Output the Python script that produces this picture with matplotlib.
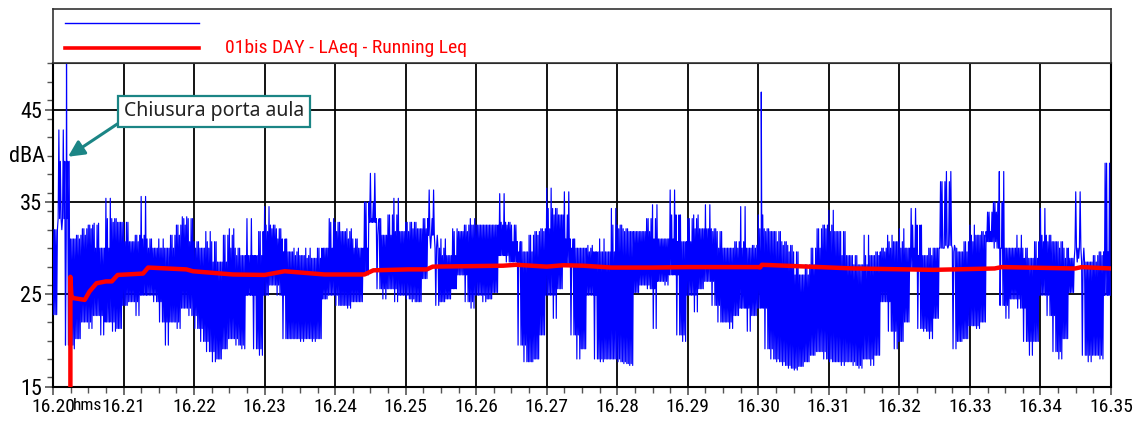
import os
import matplotlib
matplotlib.use("Agg")
import matplotlib.pyplot as plt
from matplotlib import font_manager as fm
from matplotlib.ticker import FixedLocator, MultipleLocator

# ── data: LAeq short samples (5 s bins: upper / lower swing), dBA ───────────
BIN_S = 5.0
blue_hi = [
    32.0, 42.8, 39.4, 31.0, 31.4, 32.1, 32.5, 32.7, 30.0, 35.4,
    33.2, 32.8, 32.8, 30.7, 31.4, 35.6, 31.0, 30.0, 31.0, 30.0,
    31.4, 32.5, 33.4, 33.2, 30.7, 30.0, 31.8, 30.7, 28.5, 31.4,
    32.1, 30.0, 29.2, 33.2, 29.2, 31.8, 34.5, 32.5, 32.1, 31.0,
    29.6, 30.0, 29.2, 30.0, 28.9, 30.0, 30.0, 33.2, 32.8, 31.8,
    32.1, 31.0, 30.0, 35.0, 38.1, 33.2, 31.4, 33.6, 35.4, 31.8,
    32.8, 32.8, 32.1, 33.2, 36.3, 30.0, 31.0, 29.2, 32.1, 31.8,
    32.5, 33.2, 32.5, 32.5, 32.5, 32.5, 35.9, 32.8, 32.5, 30.7,
    29.6, 31.4, 31.8, 32.1, 36.5, 34.3, 33.6, 36.1, 31.0, 30.0,
    30.0, 30.3, 29.6, 31.0, 29.6, 34.3, 32.5, 32.1, 31.8, 31.8,
    31.8, 33.2, 34.7, 31.0, 31.0, 36.3, 33.6, 30.7, 33.2, 33.6,
    32.1, 34.7, 32.1, 31.8, 30.0, 30.0, 30.7, 34.5, 30.0, 30.3,
    33.6, 32.1, 31.8, 31.8, 30.7, 30.3, 29.6, 27.1, 28.2, 30.0,
    32.1, 32.5, 34.1, 31.8, 31.8, 29.2, 29.2, 28.2, 31.4, 29.2,
    29.6, 30.0, 31.4, 30.7, 32.1, 30.0, 34.3, 32.5, 29.2, 30.0,
    30.0, 37.2, 38.3, 30.0, 29.6, 30.7, 32.5, 31.4, 31.8, 33.9,
    35.0, 38.3, 30.0, 30.0, 31.4, 30.0, 28.9, 30.7, 34.3, 31.4,
    30.7, 30.7, 30.0, 28.9, 36.1, 28.5, 28.5, 29.2, 29.6, 39.2,
]
blue_lo = [
    22.8, 33.2, 19.5, 19.1, 20.2, 22.0, 21.3, 22.7, 20.6, 22.0,
    21.0, 21.3, 23.8, 24.2, 22.7, 24.9, 24.9, 24.2, 22.0, 19.5,
    22.0, 21.3, 23.5, 22.7, 21.3, 19.9, 18.8, 17.7, 18.0, 19.1,
    20.2, 19.5, 19.1, 24.9, 19.1, 18.4, 24.9, 26.0, 24.9, 20.2,
    20.2, 20.2, 19.9, 20.2, 19.9, 20.2, 24.5, 24.9, 23.8, 23.8,
    23.5, 24.2, 24.2, 27.1, 32.8, 25.6, 24.5, 25.6, 24.2, 24.9,
    24.5, 24.2, 24.2, 26.7, 31.4, 23.8, 24.2, 24.5, 25.6, 27.1,
    24.2, 23.5, 24.9, 24.2, 24.5, 25.2, 29.2, 28.5, 28.5, 19.5,
    17.7, 17.7, 18.0, 20.6, 24.9, 22.4, 25.6, 28.2, 20.6, 18.0,
    19.1, 24.9, 18.0, 17.7, 18.0, 18.0, 17.7, 17.5, 17.3, 25.2,
    26.0, 25.6, 21.3, 26.4, 26.0, 27.1, 20.6, 19.9, 24.9, 23.1,
    25.6, 26.4, 23.8, 22.0, 22.0, 21.3, 22.7, 23.5, 21.0, 22.7,
    23.5, 19.1, 18.0, 17.7, 17.3, 17.0, 16.8, 17.2, 17.7, 18.4,
    18.8, 18.0, 17.7, 17.7, 17.3, 17.7, 17.3, 17.0, 18.0, 17.3,
    18.4, 24.2, 21.0, 19.1, 19.9, 22.0, 27.8, 21.3, 21.0, 20.2,
    22.4, 30.0, 30.3, 19.1, 19.9, 20.2, 21.6, 21.3, 22.0, 30.7,
    30.0, 23.8, 22.4, 24.5, 23.5, 19.9, 18.4, 19.9, 24.9, 22.7,
    18.8, 18.0, 20.2, 25.2, 30.0, 18.4, 17.7, 18.4, 18.0, 24.9,
]
# isolated single-sample peaks (s from 16:20:00, dBA)
peak_t = [11.5, 602.5]
peak_v = [50.5, 46.9]

# running Leq
leq_t = [14.8, 14.8, 15.6, 17.0, 27.0, 31.0, 37.0, 45.0, 50.0, 55.0,
         76.6, 80.9, 113.5, 119.0, 153.0, 180.0, 197.0, 231.0, 265.0, 272.5,
         302.0, 318.0, 323.0, 383.0, 394.0, 420.0, 434.0, 451.0, 475.0, 509.0,
         540.0, 600.0, 601.5, 603.0, 623.0, 681.0, 749.0, 801.0, 807.0, 869.5,
         875.0, 900.0]
leq_v = [15.0, 26.9, 24.9, 24.6, 24.4, 25.3, 26.2, 26.4, 26.4, 27.1,
         27.25, 27.9, 27.7, 27.5, 27.15, 27.1, 27.5, 27.15, 27.15, 27.6,
         27.7, 27.7, 28.0, 28.1, 28.2, 28.0, 28.15, 28.1, 27.9, 27.9,
         27.95, 27.95, 27.9, 28.2, 28.1, 27.8, 27.65, 27.8, 27.95, 27.8,
         27.95, 27.8]

x_ticks = [60 * m for m in range(16)]
x_labels = ["16.%02d" % (20 + m) for m in range(16)]
y_ticks = [15, 25, 35, 45]

TEAL = "#1b8585"


def _narrow_fp(size):
    """Pick a condensed sans face if one is installed, else plain sans smaller."""
    wanted = ["LiberationSansNarrow-Regular", "NotoSans-ExtraCondensed.",
              "NotoSans-Condensed.", "RobotoCondensed-Regular",
              "OpenSans-CondensedRegular", "OpenSans_Condensed-Regular"]
    files = [f.fname for f in fm.fontManager.ttflist]
    for w in wanted:
        for fn in files:
            if os.path.basename(fn).startswith(w):
                return fm.FontProperties(fname=fn, size=size)
    return fm.FontProperties(family="Liberation Sans", size=size * 0.72)


NARROW = _narrow_fp(14)
NARROW_BIG = _narrow_fp(16)
NARROW_SMALL = _narrow_fp(12.5)


def _swings(hi, lo):
    """Zig-zag through each bin: two full swings between its own extremes and
    two to the tighter of the neighbouring ones, so the edges aren't flat."""
    n = len(hi)
    ts, vs = [], []
    for i in range(n):
        a, b = max(i - 1, 0), min(i + 1, n - 1)
        tops = [hi[i], min(hi[i], hi[b]), min(hi[i], hi[a]), hi[i]]
        lows = [lo[i], max(lo[i], lo[a]), lo[i], max(lo[i], lo[b])]
        step = BIN_S / (2 * len(tops))
        for k, (tp, bt_) in enumerate(zip(tops, lows)):
            ts += [i * BIN_S + 2 * k * step, i * BIN_S + (2 * k + 1) * step]
            vs += [tp, bt_]
    return ts, vs


bt, bv = _swings(blue_hi, blue_lo)
pts = sorted(list(zip(bt, bv)) + list(zip(peak_t, peak_v)))
bt = [p[0] for p in pts]
bv = [p[1] for p in pts]

W, H = 1141, 421
fig = plt.figure(figsize=(W / 100, H / 100), dpi=100)


def fx(px):
    return px / W


def fy(py):
    return 1 - py / H


ax = fig.add_axes([fx(53), fy(386.7), fx(1111) - fx(53), fy(62.5) - fy(386.7)])
ax.plot(bt, bv, color="#0000ff", lw=0.85, zorder=3)
ax.plot(leq_t, leq_v, color="#ff0000", lw=3.2, zorder=4, solid_joinstyle="round")

ax.set_xlim(0, 900)
ax.set_ylim(15, 50.1)
ax.xaxis.set_major_locator(FixedLocator(x_ticks))
ax.xaxis.set_minor_locator(MultipleLocator(15))
ax.yaxis.set_major_locator(FixedLocator(y_ticks))
ax.yaxis.set_minor_locator(MultipleLocator(2))
ax.set_xticklabels(x_labels)
ax.grid(True, which="major", color="black", lw=1.3, zorder=1)
for s in ax.spines.values():
    s.set_linewidth(1.5)
ax.tick_params(which="major", direction="out", length=6, width=1.2, color="#555555", pad=2)
ax.tick_params(which="minor", direction="out", length=4, width=1.0, color="#555555")
for lab in ax.get_xticklabels():
    lab.set_fontproperties(NARROW)
for lab in ax.get_yticklabels():
    lab.set_fontproperties(NARROW_BIG)

fig.text(fx(73), fy(406), "hms", ha="left", va="center", fontproperties=NARROW_SMALL)
fig.text(fx(27), fy(157), "dBA", ha="center", va="center", fontproperties=NARROW_BIG)

ax.annotate("Chiusura porta aula", xy=(12.8, 39.9), xytext=(60.5, 44.8),
            ha="left", va="center", fontsize=14, family=["Noto Sans", "DejaVu Sans"],
            color="#222222", zorder=6,
            bbox=dict(boxstyle="square,pad=0.3", fc="white", ec=TEAL, lw=1.6),
            arrowprops=dict(arrowstyle="-|>", color=TEAL, lw=2.2, mutation_scale=24,
                            relpos=(0, 0.1), shrinkA=0, shrinkB=0))

# legend panel above the plot
lg = fig.add_axes([fx(53), fy(62.5), fx(1111) - fx(53), fy(9) - fy(62.5)])
lg.set_xlim(53, 1111)
lg.set_ylim(62.5, 9)
lg.set_xticks([])
lg.set_yticks([])
for s in lg.spines.values():
    s.set_color("#333333")
    s.set_linewidth(1.2)
lg.plot([65, 199], [22.7, 22.7], color="#0000ff", lw=1.0)
lg.plot([65, 199], [48.3, 48.3], color="#ff0000", lw=2.6)
lg.text(225, 48, "01bis DAY - LAeq - Running Leq", ha="left", va="center",
        color="#ff0000", fontproperties=NARROW)

fig.savefig("out.png", dpi=100)
